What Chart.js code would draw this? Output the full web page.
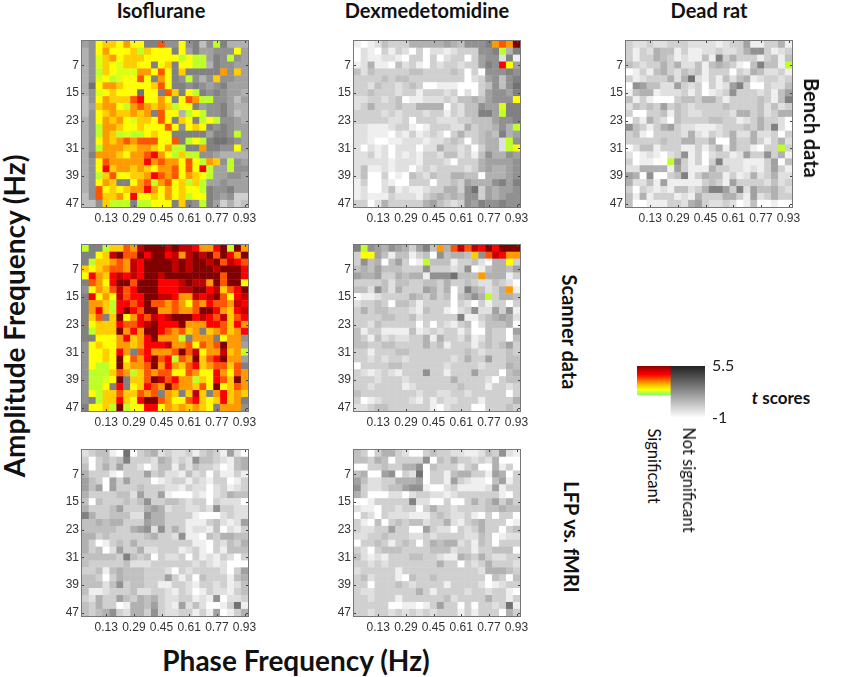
<!DOCTYPE html>
<html>
<head>
<meta charset="utf-8">
<title>PAC t scores</title>
<script src="https://cdn.jsdelivr.net/npm/chart.js@4"></script>
<style>
  html, body { margin: 0; padding: 0; background: #fff; }
  #page { position: relative; width: 850px; height: 677px; overflow: hidden; font-family: Lato, sans-serif; color: #111; }
  #page canvas { position: absolute; }
  .txt { position: absolute; white-space: nowrap; }
</style>
</head>
<body>
<div id="page"></div>
<script>
var phaseFreq = [0.01,0.05,0.09,0.13,0.17,0.21,0.25,0.29,0.33,0.37,0.41,0.45,0.49,0.53,0.57,0.61,0.65,0.69,0.73,0.77,0.81,0.85,0.89,0.93];
var ampFreq = [1,3,5,7,9,11,13,15,17,19,21,23,25,27,29,31,33,35,37,39,41,43,45,47];
var phaseTicks = [0.13,0.29,0.45,0.61,0.77,0.93];
var ampTicks = [7,15,23,31,39,47];

// t score per cell, one string per amplitude row.
// 0-9 = not significant, a-i = significant (see scoreOf below)
var isoBench = [
"67cddcecc88f77c7847a8555","57cecccdadccc8c6866777c6","57bdecdddcccccacaa687a76","57bdcbddcc8cd8ccaa587766",
"57adcbbbeecfc8d88888e7d6","57bcabccfc8ec87a757d7766","59ceedccccdfc88787678666","57bcdccc9cc8fd8ca8787665",
"47cedddfgccec8cfeaa77646","46deecaefededacc86778655","47cdeddede8fcc5aca778645","57cedecbddcfc8dc8aca7765",
"57aeedccdcccfc7cdc878766","57aedabaacdcc888886887a6","57cedefefffccf8aca899876","57aeeeddeedceaa88e8877c6",
"58eeedceefgecadaa7765555","57cfeeeeegefeecfcaed7a76","57cgdeededceefcfcga66a77","57adfccddegfefcedca66776",
"57ced88cefaefcdada667666","57fcdcdeegececdcca877866","47fddecgccdcecdacc876733","447daaa8aaccc8d87a863534"
];
var isoScanner = [
"a88addfehiiihihhgeegiaie","88cdhiffigiighehihifigei","8addefehgiiiihihiihifhgf","dcdeffehgiiiihihiiihiiig",
"cgedghghgiihiiiiiiiifiig","8fecgiifiiiggghihheifiic","7cedfhfgiiiggghhiighdfgi","8gcechfggiihhgeehghifcgh",
"8eedaggfgiffefecfegffehg","8egdagigfiieefeefiigedgh","8df8dicegfhghiiighgfhdfg","8cdddgffghigggieeeggfdge",
"8adddiegeiigfefde8defdeg","88cccegdegieeea8eee8cee7","7cdcceedegggheefcfefiee6","7ccdcge8fgeeefifhceehdea",
"7ccdcicfegifgafeidfgiee6","7caacideefiegedfgdeffdf8","7aaadfeadfeffccfeccgecfe","7aabci8ddfihfgeeadcgfdie",
"7aac8g8cdgfeifeedfcicdfe","7caddfddfef8ed8dhd8egded","78addgdcgiifeccfgdcdgde8","8ccdaiaccggcedededc8eee7"
];
var isoLfp = [
"234410903452322313431620","303434833325423274432145","403536332024414243320145","533310333634221423031131",
"643063633301233132133013","646063334333221322023123","533334426336100021023544","404333434733443233032220",
"533346333565233223273322","853344422755333310002322","445455333655333111342126","444443356727353122140213",
"553433333453327110435544","530134353333333311032435","534026335223331231031444","444443843403223031213203",
"433333422233333323212000","334145444333203233332036","443035444333631304333145","444247344331133213323124",
"411233342233213201322134","325336435453223312170223","435330155463216242001391","434573255373223313160135"
];
var dexBench = [
"10124333555556547778efei","021031320302212333778a58","021122103303023303677281","125110423103233233687gc6",
"424333334433334303077787","333343443333333302367478","332433234300111000347479","334333233133323020367768",
"22332340112223244546777c","235333433555503244766b88","333323233323313244886a88","333332230333222334446778",
"22111233101333225344575a","221110213123203533454856","2210011222122343034552a7","2021202220225332303552ac",
"223120212133244231475576","222221222133320333566667","241121220232333323565567","240030104324335544055567",
"130021003330334365557868","120024121123355379365667","121113222134545477365677","330253333356432376877877"
];
var dexScanner = [
"8a7657653684e5fhfhgigiii","3cc64144134074554d7fhgee","3745046301a44413342055c3","454644433373332370145546",
"655633545517779444e55513","333342443344353343224320","4427425333653503854235e1","0112333354353404575a3554",
"233430443133330320313303","353443332143310237226371","333344334233333811345652","332433333030321340244450",
"413311114123233130043306","431423223351533241243304","443344333353413331343463","331333443333333343233343",
"332323323333332353363344","033334433333323333233354","321232133373313336333045","333233323333335333320344",
"332333312333333433313323","433333333233223323333303","301233332131322333133335","223443333331023330033343"
];
var dexLfp = [
"430355320034332211243721","443540333370435332325000","003343355704333134005130","450067032903314553316503",
"642233555603316321104613","732234467710023111126133","530002202332212333333103","001333338220030035346353",
"211033233035332333344544","032032221113432231030330","310403434423352134533301","322336330063220323533034",
"223343332232333322430122","033431343035455231430333","320344433334442331334440","421213334433211543532233",
"332323333333533032353332","233333133333333333255543","342333104334333333304304","330333432333313333201233",
"322333333531333323323310","332333133333342333353313","333330011013633030332391","332332323232333131333053"
];
var deadBench = [
"322322333222212336113351","313254413112232235773123","313354312114183533313414","43233535224145431048441a",
"013145324341333032542231","312333525921314245123323","076442263230312683003224","145512223130123733323146",
"413100034435531333343148","243436343233334333342423","300334143223333255342355","031532043333443312353320",
"743135632211123334353820","341033332521323522522303","333334335533500533531352","0244133311313515331033a3",
"201210237130233126337351","301100a73130382221113604","225555163111533221213631","650700348135441312523522",
"522416111113431633332423","303212144235886382644532","415133312153335531623533","400111332563223201400100"
];

var legendLabels = ['Significant', 'Not significant'];
var legendRange = [[1.9, 5.5], [-1, 5.5]];
var legendTicks = [-1, 5.5];

var sigScores = { a: 2.0, b: 2.2, c: 2.5, d: 2.8, e: 3.1, f: 3.5, g: 4.0, h: 4.7, i: 5.5 };
var hotStops = [
    [1.9, [130, 255, 110]], [2.0, [190, 255, 40]], [2.2, [220, 255, 20]], [2.5, [255, 255, 0]],
    [2.8, [255, 205, 0]], [3.1, [255, 155, 0]], [3.5, [255, 85, 0]], [4.0, [255, 0, 0]],
    [4.7, [195, 0, 0]], [5.5, [128, 0, 0]]
];

function scoreOf(ch) {
    if (sigScores[ch] !== undefined) return sigScores[ch];
    return -1 + 0.4 * parseInt(ch);
}

function hotColor(t) {
    for (var i = 0; i < hotStops.length; i++) {
        if (t <= hotStops[i][0]) {
            var c = hotStops[i][1];
            return 'rgb(' + c[0] + ',' + c[1] + ',' + c[2] + ')';
        }
    }
    return 'rgb(128,0,0)';
}

function grayColor(t) {
    var g = Math.round(255 * (1 - (t + 1) / 6.5));
    return 'rgb(' + g + ',' + g + ',' + g + ')';
}

function cellsOf(rows) {
    var pts = [];
    rows.forEach(function(row, r) {
        row.split('').forEach(function(ch, c) {
            pts.push({ x: phaseFreq[c], y: ampFreq[r], t: scoreOf(ch), sig: sigScores[ch] !== undefined });
        });
    });
    return pts;
}

// chart.js pads for the first and last tick label, the plots have to stay the same size
function noPadding(s) {
    s.paddingTop = 0; s.paddingBottom = 0; s.paddingLeft = 0; s.paddingRight = 0;
}

// box round the plot and the small inward ticks, like the matlab axes
var boxPlugin = {
    id: 'box',
    afterDatasetsDraw: function(chart) {
        var a = chart.chartArea, c = chart.ctx;
        c.save();
        c.strokeStyle = '#777';
        c.lineWidth = 1;
        c.strokeRect(a.left - 0.5, a.top - 0.5, a.right - a.left + 1, a.bottom - a.top + 1);
        c.strokeStyle = '#444';
        c.beginPath();
        chart.scales.x.ticks.forEach(function(t) {
            var px = Math.round(chart.scales.x.getPixelForValue(t.value)) + 0.5;
            c.moveTo(px, a.bottom); c.lineTo(px, a.bottom - 2);
            c.moveTo(px, a.top); c.lineTo(px, a.top + 2);
        });
        chart.scales.y.ticks.forEach(function(t) {
            var py = Math.round(chart.scales.y.getPixelForValue(t.value)) + 0.5;
            c.moveTo(a.left, py); c.lineTo(a.left + 2, py);
            c.moveTo(a.right, py); c.lineTo(a.right - 2, py);
        });
        c.stroke();
        c.restore();
    }
};

var page = document.getElementById('page');
var tickFont = { family: 'Liberation Sans', size: 12 };

function panel(rows, left, top) {
    var cv = document.createElement('canvas');
    cv.width = 210; cv.height = 193;
    cv.style.left = (left - 30) + 'px';
    cv.style.top = (top - 5) + 'px';
    page.appendChild(cv);
    new Chart(cv.getContext('2d'), {
        type: 'scatter',
        plugins: [boxPlugin],
        data: {
            datasets: [{
                data: cellsOf(rows),
                pointStyle: 'rect',
                borderWidth: 0,
                pointRadius: function(ctx) {
                    var a = ctx.chart.chartArea;
                    return a ? (a.right - a.left) / 24 * Math.SQRT1_2 + 0.3 : 4;
                },
                backgroundColor: function(ctx) {
                    var p = ctx.raw;
                    if (!p) return '#fff';
                    return p.sig ? hotColor(p.t) : grayColor(p.t);
                }
            }]
        },
        options: {
            responsive: false,
            animation: false,
            layout: { autoPadding: false, padding: { top: 5, right: 14, left: 0, bottom: 0 } },
            plugins: { legend: { display: false }, tooltip: { enabled: false } },
            scales: {
                x: {
                    type: 'linear', min: -0.01, max: 0.95,
                    grid: { display: false, drawTicks: false }, border: { display: false },
                    afterBuildTicks: function(s) { s.ticks = phaseTicks.map(function(v) { return { value: v }; }); },
                    afterFit: function(s) { s.height = 22; noPadding(s); },
                    ticks: {
                        autoSkip: false, maxRotation: 0, minRotation: 0, padding: 4, color: '#333', font: tickFont,
                        callback: function(v) { return Number(v).toFixed(2); }
                    }
                },
                y: {
                    type: 'linear', min: 0, max: 48, reverse: true,
                    grid: { display: false, drawTicks: false }, border: { display: false },
                    afterBuildTicks: function(s) { s.ticks = ampTicks.map(function(v) { return { value: v }; }); },
                    afterFit: function(s) { s.width = 30; noPadding(s); },
                    ticks: { autoSkip: false, padding: 3, color: '#333', font: tickFont }
                }
            }
        }
    });
}

panel(isoBench, 82, 41);
panel(isoScanner, 82, 245);
panel(isoLfp, 82, 450);
panel(dexBench, 354, 41);
panel(dexScanner, 354, 245);
panel(dexLfp, 354, 450);
panel(deadBench, 626, 41);

// colour key
var keyCv = document.createElement('canvas');
keyCv.width = 110; keyCv.height = 72;
keyCv.style.left = '637px';
keyCv.style.top = '356px';
page.appendChild(keyCv);
new Chart(keyCv.getContext('2d'), {
    type: 'bar',
    data: {
        labels: legendLabels,
        datasets: [{
            data: legendRange,
            categoryPercentage: 1,
            barPercentage: 1,
            borderWidth: 0,
            backgroundColor: function(ctx) {
                var chart = ctx.chart;
                if (!chart.chartArea) return '#888';
                var y = chart.scales.y;
                var lo = legendRange[ctx.dataIndex][0], hi = legendRange[ctx.dataIndex][1];
                var g = chart.ctx.createLinearGradient(0, y.getPixelForValue(hi), 0, y.getPixelForValue(lo));
                if (ctx.dataIndex === 0) {
                    g.addColorStop(0, '#8f0000');
                    g.addColorStop(0.3, '#ff0000');
                    g.addColorStop(0.6, '#ffa500');
                    g.addColorStop(0.82, '#ffff00');
                    g.addColorStop(1, '#80ff70');
                } else {
                    g.addColorStop(0, '#222');
                    g.addColorStop(1, '#fff');
                }
                return g;
            }
        }]
    },
    options: {
        responsive: false,
        animation: false,
        layout: { autoPadding: false, padding: { top: 10, right: 0, left: 0, bottom: 10 } },
        plugins: { legend: { display: false }, tooltip: { enabled: false } },
        scales: {
            x: { display: false },
            y: {
                position: 'right', min: -1, max: 5.5,
                grid: { display: false, drawTicks: false }, border: { display: false },
                afterBuildTicks: function(s) { s.ticks = legendTicks.map(function(v) { return { value: v }; }); },
                afterFit: function(s) { s.width = 42; noPadding(s); },
                ticks: { padding: 7, color: '#222', font: { family: 'Lato', size: 16 } }
            }
        }
    }
});

function label(html, cx, cy, font, rot) {
    var el = document.createElement('div');
    el.className = 'txt';
    el.innerHTML = html;
    el.style.left = cx + 'px';
    el.style.top = cy + 'px';
    el.style.font = font;
    el.style.transform = 'translate(-50%,-50%)' + (rot ? ' rotate(' + rot + 'deg)' : '');
    page.appendChild(el);
}

var headFont = 'bold 20px Lato';
label('Isoflurane', 161, 10, headFont);
label('Dexmedetomidine', 427, 10, headFont);
label('Dead rat', 709, 10, headFont);
label('Bench data', 812, 128, headFont, 90);
label('Scanner data', 570, 332, headFont, 90);
label('LFP vs. fMRI', 572, 537, headFont, 90);
label('Amplitude Frequency (Hz)', 14, 316, 'bold 28px Lato', -90);
label('Phase Frequency (Hz)', 296, 660, 'bold 28px Lato');
label('<i>t</i> scores', 781, 397, 'bold 17px Lato');
label(legendLabels[0], 654, 466, '16.5px Lato', 90);
label(legendLabels[1], 689, 480, '16.5px Lato', 90);
</script>
</body>
</html>
